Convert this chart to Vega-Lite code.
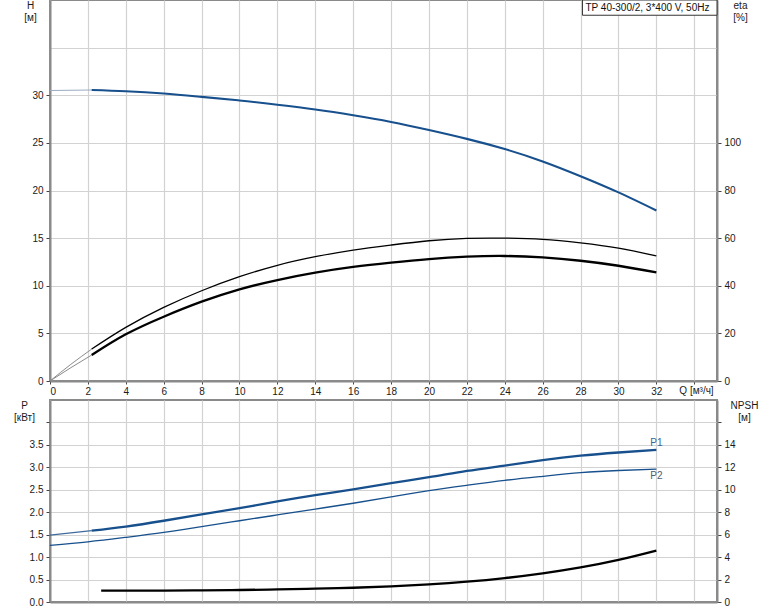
{
  "$schema": "https://vega.github.io/schema/vega-lite/v6.json",
  "padding": {"left": 12, "top": -2, "right": 5, "bottom": 5},
  "background": "white",
  "bounds": "flush",
  "spacing": 19,
  "config": {
    "font": "Liberation Sans",
    "view": {"stroke": "#8a8a8a", "strokeWidth": 2},
    "axis": {
      "labelFont": "Liberation Sans", "labelFontSize": 10, "labelColor": "#1a1a1a", "labelOverlap": false,
      "titleFont": "Liberation Sans", "titleFontSize": 10, "titleFontWeight": "normal", "titleColor": "#1a1a1a",
      "domainColor": "#8a8a8a", "domainWidth": 2, "tickColor": "#444", "tickSize": 4, "tickWidth": 1,
      "gridColor": "#d2d2d2", "gridWidth": 1.2, "labelPadding": 2
    },
    "line": {"interpolate": "natural"}
  },
  "datasets": {
    "H": [
      {"Q": 0, "H": 30.5, "seg": "s"}, {"Q": 2.2, "H": 30.55, "seg": "s"},
      {"Q": 2.2, "H": 30.55, "seg": "m"}, {"Q": 4, "H": 30.42, "seg": "m"}, {"Q": 6, "H": 30.18, "seg": "m"},
      {"Q": 8, "H": 29.83, "seg": "m"}, {"Q": 10, "H": 29.45, "seg": "m"}, {"Q": 12, "H": 29.0, "seg": "m"},
      {"Q": 14, "H": 28.5, "seg": "m"}, {"Q": 16, "H": 27.9, "seg": "m"}, {"Q": 18, "H": 27.2, "seg": "m"},
      {"Q": 20, "H": 26.35, "seg": "m"}, {"Q": 22, "H": 25.42, "seg": "m"}, {"Q": 24, "H": 24.35, "seg": "m"},
      {"Q": 26, "H": 23.05, "seg": "m"}, {"Q": 28, "H": 21.5, "seg": "m"}, {"Q": 30, "H": 19.8, "seg": "m"},
      {"Q": 32, "H": 17.9, "seg": "m"}
    ],
    "eta": [
      {"Q": 0, "eta": 0, "curve": "eta1", "seg": "s"}, {"Q": 1.1, "eta": 7.0, "curve": "eta1", "seg": "s"}, {"Q": 2.2, "eta": 13.4, "curve": "eta1", "seg": "s"},
      {"Q": 2.2, "eta": 13.4, "curve": "eta1", "seg": "m"}, {"Q": 4, "eta": 22.5, "curve": "eta1", "seg": "m"}, {"Q": 6, "eta": 30.9, "curve": "eta1", "seg": "m"},
      {"Q": 8, "eta": 37.9, "curve": "eta1", "seg": "m"}, {"Q": 10, "eta": 43.8, "curve": "eta1", "seg": "m"}, {"Q": 12, "eta": 48.6, "curve": "eta1", "seg": "m"},
      {"Q": 14, "eta": 52.2, "curve": "eta1", "seg": "m"}, {"Q": 16, "eta": 55.0, "curve": "eta1", "seg": "m"}, {"Q": 18, "eta": 57.1, "curve": "eta1", "seg": "m"},
      {"Q": 20, "eta": 58.9, "curve": "eta1", "seg": "m"}, {"Q": 22, "eta": 59.9, "curve": "eta1", "seg": "m"}, {"Q": 24, "eta": 60.0, "curve": "eta1", "seg": "m"},
      {"Q": 26, "eta": 59.5, "curve": "eta1", "seg": "m"}, {"Q": 28, "eta": 58.0, "curve": "eta1", "seg": "m"}, {"Q": 30, "eta": 55.8, "curve": "eta1", "seg": "m"},
      {"Q": 32, "eta": 52.5, "curve": "eta1", "seg": "m"},
      {"Q": 0, "eta": 0, "curve": "eta2", "seg": "s"}, {"Q": 1.1, "eta": 5.6, "curve": "eta2", "seg": "s"}, {"Q": 2.2, "eta": 10.9, "curve": "eta2", "seg": "s"},
      {"Q": 2.2, "eta": 10.9, "curve": "eta2", "seg": "m"}, {"Q": 4, "eta": 19.6, "curve": "eta2", "seg": "m"}, {"Q": 6, "eta": 27.0, "curve": "eta2", "seg": "m"},
      {"Q": 8, "eta": 33.3, "curve": "eta2", "seg": "m"}, {"Q": 10, "eta": 38.5, "curve": "eta2", "seg": "m"}, {"Q": 12, "eta": 42.4, "curve": "eta2", "seg": "m"},
      {"Q": 14, "eta": 45.5, "curve": "eta2", "seg": "m"}, {"Q": 16, "eta": 47.9, "curve": "eta2", "seg": "m"}, {"Q": 18, "eta": 49.7, "curve": "eta2", "seg": "m"},
      {"Q": 20, "eta": 51.2, "curve": "eta2", "seg": "m"}, {"Q": 22, "eta": 52.2, "curve": "eta2", "seg": "m"}, {"Q": 24, "eta": 52.5, "curve": "eta2", "seg": "m"},
      {"Q": 26, "eta": 51.9, "curve": "eta2", "seg": "m"}, {"Q": 28, "eta": 50.5, "curve": "eta2", "seg": "m"}, {"Q": 30, "eta": 48.4, "curve": "eta2", "seg": "m"},
      {"Q": 32, "eta": 45.6, "curve": "eta2", "seg": "m"}
    ],
    "P": [
      {"Q": 0, "P": 1.49, "curve": "P1", "seg": "s"}, {"Q": 2.2, "P": 1.59, "curve": "P1", "seg": "s"},
      {"Q": 2.2, "P": 1.59, "curve": "P1", "seg": "m"}, {"Q": 4, "P": 1.68, "curve": "P1", "seg": "m"}, {"Q": 6, "P": 1.81, "curve": "P1", "seg": "m"},
      {"Q": 8, "P": 1.95, "curve": "P1", "seg": "m"}, {"Q": 10, "P": 2.09, "curve": "P1", "seg": "m"}, {"Q": 12, "P": 2.24, "curve": "P1", "seg": "m"},
      {"Q": 14, "P": 2.38, "curve": "P1", "seg": "m"}, {"Q": 16, "P": 2.51, "curve": "P1", "seg": "m"}, {"Q": 18, "P": 2.65, "curve": "P1", "seg": "m"},
      {"Q": 20, "P": 2.78, "curve": "P1", "seg": "m"}, {"Q": 22, "P": 2.92, "curve": "P1", "seg": "m"}, {"Q": 24, "P": 3.04, "curve": "P1", "seg": "m"},
      {"Q": 26, "P": 3.16, "curve": "P1", "seg": "m"}, {"Q": 28, "P": 3.26, "curve": "P1", "seg": "m"}, {"Q": 30, "P": 3.33, "curve": "P1", "seg": "m"},
      {"Q": 32, "P": 3.39, "curve": "P1", "seg": "m"},
      {"Q": 0, "P": 1.26, "curve": "P2", "seg": "m"}, {"Q": 2, "P": 1.34, "curve": "P2", "seg": "m"}, {"Q": 4, "P": 1.44, "curve": "P2", "seg": "m"},
      {"Q": 6, "P": 1.55, "curve": "P2", "seg": "m"}, {"Q": 8, "P": 1.68, "curve": "P2", "seg": "m"}, {"Q": 10, "P": 1.81, "curve": "P2", "seg": "m"},
      {"Q": 12, "P": 1.94, "curve": "P2", "seg": "m"}, {"Q": 14, "P": 2.07, "curve": "P2", "seg": "m"}, {"Q": 16, "P": 2.2, "curve": "P2", "seg": "m"},
      {"Q": 18, "P": 2.34, "curve": "P2", "seg": "m"}, {"Q": 20, "P": 2.48, "curve": "P2", "seg": "m"}, {"Q": 22, "P": 2.6, "curve": "P2", "seg": "m"},
      {"Q": 24, "P": 2.71, "curve": "P2", "seg": "m"}, {"Q": 26, "P": 2.8, "curve": "P2", "seg": "m"}, {"Q": 28, "P": 2.88, "curve": "P2", "seg": "m"},
      {"Q": 30, "P": 2.93, "curve": "P2", "seg": "m"}, {"Q": 32, "P": 2.96, "curve": "P2", "seg": "m"}
    ],
    "npsh": [
      {"Q": 2.7, "NPSH": 1.02}, {"Q": 4, "NPSH": 1.02}, {"Q": 6, "NPSH": 1.02}, {"Q": 8, "NPSH": 1.04},
      {"Q": 10, "NPSH": 1.07}, {"Q": 12, "NPSH": 1.12}, {"Q": 14, "NPSH": 1.19}, {"Q": 16, "NPSH": 1.27},
      {"Q": 18, "NPSH": 1.39}, {"Q": 20, "NPSH": 1.57}, {"Q": 22, "NPSH": 1.81}, {"Q": 24, "NPSH": 2.13},
      {"Q": 26, "NPSH": 2.55}, {"Q": 28, "NPSH": 3.08}, {"Q": 30, "NPSH": 3.75}, {"Q": 32, "NPSH": 4.58}
    ],
    "labels": [
      {"Q": 32, "P": 3.39, "label": "P1"},
      {"Q": 32, "P": 2.96, "label": "P2"}
    ],
    "titlebox": [
      {"Q1": 28.1, "Q2": 35.2, "H1": 38.4, "H2": 40, "Hm": 39.2, "label": "TP 40-300/2, 3*400 V, 50Hz"}
    ]
  },
  "vconcat": [
    {
      "width": 667,
      "height": 381,
      "resolve": {"scale": {"y": "independent"}},
      "layer": [
        {
          "data": {"name": "H"},
          "transform": [{"filter": "datum.seg == 's'"}],
          "mark": {"type": "line", "color": "#9aaac2", "strokeWidth": 1.2},
          "encoding": {
            "x": {"field": "Q", "type": "quantitative", "scale": {"domain": [0, 35.2], "nice": false, "zero": false},
              "axis": {
                "values": [0, 2, 4, 6, 8, 10, 12, 14, 16, 18, 20, 22, 24, 26, 28, 30, 32, 34],
                "tickCount": 18,
                "labelExpr": "datum.value > 33 ? '' : datum.label",
                "labelOverlap": false,
                "labelBound": false,
                "tickSize": 3,
                "title": "Q [м³/ч]", "titleX": 646, "titleY": 9, "titleAlign": "center", "titleBaseline": "middle"
              }},
            "y": {"field": "H", "type": "quantitative", "scale": {"domain": [0, 40], "nice": false},
              "axis": {
                "values": [0, 5, 10, 15, 20, 25, 30, 35],
                "labelExpr": "datum.value > 30 ? '' : datum.label",
                "tickOpacity": {"condition": {"test": "datum.value > 30", "value": 0}, "value": 1},
                "labelPadding": 3,
                "title": ["H", "[м]"], "titleAngle": 0, "titleX": -20, "titleY": 0,
                "titleAlign": "center", "titleBaseline": "top", "titleLineHeight": 12
              }}
          }
        },
        {
          "data": {"name": "H"},
          "transform": [{"filter": "datum.seg == 'm'"}],
          "mark": {"type": "line", "color": "#17508d", "strokeWidth": 2.1},
          "encoding": {
            "x": {"field": "Q", "type": "quantitative"},
            "y": {"field": "H", "type": "quantitative", "scale": {"domain": [0, 40], "nice": false}, "axis": null}
          }
        },
        {
          "data": {"name": "eta"},
          "transform": [{"filter": "datum.seg == 's'"}],
          "mark": {"type": "line", "color": "#8c8c8c", "strokeWidth": 1},
          "encoding": {
            "x": {"field": "Q", "type": "quantitative"},
            "y": {"field": "eta", "type": "quantitative", "scale": {"domain": [0, 160], "nice": false},
              "axis": {
                "orient": "right", "grid": false,
                "values": [0, 20, 40, 60, 80, 100],
                "labelPadding": 3,
                "title": ["eta", "[%]"], "titleAngle": 0, "titleX": 23, "titleY": 0,
                "titleAlign": "center", "titleBaseline": "top", "titleLineHeight": 12
              }},
            "detail": {"field": "curve"}
          }
        },
        {
          "data": {"name": "eta"},
          "transform": [{"filter": "datum.seg == 'm' && datum.curve == 'eta1'"}],
          "mark": {"type": "line", "color": "#000000", "strokeWidth": 1.3},
          "encoding": {
            "x": {"field": "Q", "type": "quantitative"},
            "y": {"field": "eta", "type": "quantitative", "scale": {"domain": [0, 160], "nice": false}, "axis": null}
          }
        },
        {
          "data": {"name": "eta"},
          "transform": [{"filter": "datum.seg == 'm' && datum.curve == 'eta2'"}],
          "mark": {"type": "line", "color": "#000000", "strokeWidth": 2.3},
          "encoding": {
            "x": {"field": "Q", "type": "quantitative"},
            "y": {"field": "eta", "type": "quantitative", "scale": {"domain": [0, 160], "nice": false}, "axis": null}
          }
        },
        {
          "data": {"name": "titlebox"},
          "mark": {"type": "rect", "fill": "white", "stroke": "#333333", "strokeWidth": 1},
          "encoding": {
            "x": {"field": "Q1", "type": "quantitative"},
            "x2": {"field": "Q2"},
            "y": {"field": "H1", "type": "quantitative", "scale": {"domain": [0, 40], "nice": false}, "axis": null},
            "y2": {"field": "H2"}
          }
        },
        {
          "data": {"name": "titlebox"},
          "mark": {"type": "text", "align": "left", "baseline": "middle", "fontSize": 10, "color": "#111111", "dx": 3},
          "encoding": {
            "x": {"field": "Q1", "type": "quantitative"},
            "y": {"field": "Hm", "type": "quantitative", "scale": {"domain": [0, 40], "nice": false}, "axis": null},
            "text": {"field": "label"}
          }
        }
      ]
    },
    {
      "width": 667,
      "height": 202,
      "resolve": {"scale": {"y": "independent"}},
      "layer": [
        {
          "data": {"name": "P"},
          "transform": [{"filter": "datum.seg == 's'"}],
          "mark": {"type": "line", "color": "#3f6a9c", "strokeWidth": 1.2},
          "encoding": {
            "x": {"field": "Q", "type": "quantitative", "scale": {"domain": [0, 35.2], "nice": false, "zero": false},
              "axis": {
                "values": [0, 2, 4, 6, 8, 10, 12, 14, 16, 18, 20, 22, 24, 26, 28, 30, 32, 34],
                "tickCount": 18,
                "labels": false, "ticks": false, "title": null
              }},
            "y": {"field": "P", "type": "quantitative", "scale": {"domain": [0, 4.5], "nice": false},
              "axis": {
                "values": [0, 0.5, 1, 1.5, 2, 2.5, 3, 3.5, 4],
                "format": ".1f",
                "labelExpr": "datum.value > 3.6 ? '' : datum.label",
                "labelPadding": 3,
                "title": ["P", "[кВт]"], "titleAngle": 0, "titleX": -26, "titleY": 0,
                "titleAlign": "center", "titleBaseline": "top", "titleLineHeight": 12
              }},
            "detail": {"field": "curve"}
          }
        },
        {
          "data": {"name": "P"},
          "transform": [{"filter": "datum.seg == 'm' && datum.curve == 'P1'"}],
          "mark": {"type": "line", "color": "#17508d", "strokeWidth": 2.3},
          "encoding": {
            "x": {"field": "Q", "type": "quantitative"},
            "y": {"field": "P", "type": "quantitative", "scale": {"domain": [0, 4.5], "nice": false}, "axis": null}
          }
        },
        {
          "data": {"name": "P"},
          "transform": [{"filter": "datum.seg == 'm' && datum.curve == 'P2'"}],
          "mark": {"type": "line", "color": "#17508d", "strokeWidth": 1.3},
          "encoding": {
            "x": {"field": "Q", "type": "quantitative"},
            "y": {"field": "P", "type": "quantitative", "scale": {"domain": [0, 4.5], "nice": false}, "axis": null}
          }
        },
        {
          "data": {"name": "labels"},
          "transform": [{"filter": "datum.label == 'P1'"}],
          "mark": {"type": "text", "align": "center", "baseline": "middle", "fontSize": 10, "color": "#3a6496", "dy": -7},
          "encoding": {
            "x": {"field": "Q", "type": "quantitative"},
            "y": {"field": "P", "type": "quantitative", "scale": {"domain": [0, 4.5], "nice": false}, "axis": null},
            "text": {"field": "label"}
          }
        },
        {
          "data": {"name": "labels"},
          "transform": [{"filter": "datum.label == 'P2'"}],
          "mark": {"type": "text", "align": "center", "baseline": "middle", "fontSize": 10, "color": "#4d5d73", "dy": 7},
          "encoding": {
            "x": {"field": "Q", "type": "quantitative"},
            "y": {"field": "P", "type": "quantitative", "scale": {"domain": [0, 4.5], "nice": false}, "axis": null},
            "text": {"field": "label"}
          }
        },
        {
          "data": {"name": "npsh"},
          "mark": {"type": "line", "color": "#000000", "strokeWidth": 2.3},
          "encoding": {
            "x": {"field": "Q", "type": "quantitative"},
            "y": {"field": "NPSH", "type": "quantitative", "scale": {"domain": [0, 18], "nice": false},
              "axis": {
                "orient": "right", "grid": false,
                "values": [0, 2, 4, 6, 8, 10, 12, 14, 16],
                "labelExpr": "datum.value > 14 ? '' : datum.label",
                "labelPadding": 3,
                "title": ["NPSH", "[м]"], "titleAngle": 0, "titleX": 27, "titleY": 0,
                "titleAlign": "center", "titleBaseline": "top", "titleLineHeight": 12
              }}
          }
        }
      ]
    }
  ]
}
